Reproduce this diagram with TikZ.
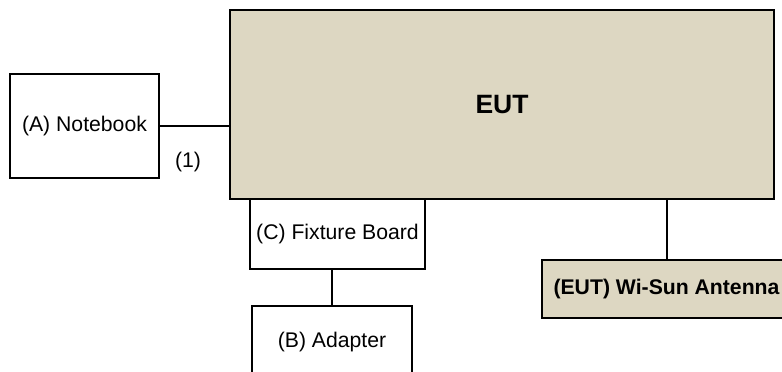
\documentclass[tikz,border=0pt]{standalone}
\usepackage{fontspec}
\setmainfont{Liberation Sans}
\definecolor{boxbeige}{RGB}{221,215,194}
\begin{document}
\begin{tikzpicture}[x=1pt,y=-1pt,
  unit/.style={draw=black,line width=2.6pt,rectangle,inner sep=0pt,
    font=\fontsize{21.2}{25}\selectfont,text=black},
  eutbox/.style={unit,fill=boxbeige},
  wire/.style={draw=black,line width=2pt}]
\useasboundingbox (0,0) rectangle (782,372);
\clip (0,0) rectangle (782,372);
% main equipment under test
\node[eutbox,minimum width=544pt,minimum height=189pt,
  font=\fontsize{26.5}{30}\selectfont\bfseries] (eut) at (502,104.5) {EUT};
% support units
\node[unit,minimum width=149pt,minimum height=104pt] (nb) at (84.5,126) {(A) Notebook};
\node[unit,minimum width=175pt,minimum height=70pt] (fix) at (337.5,234) {(C) Fixture Board};
\node[unit,minimum width=160pt,minimum height=72pt] (adp) at (332,342) {(B) Adapter};
\node[eutbox,minimum width=249pt,minimum height=58pt,
  font=\fontsize{21.2}{25}\selectfont\bfseries] (ant) at (666.5,289) {(EUT) Wi-Sun Antenna};
% cabling
\draw[wire] (nb.east) -- (nb.east -| eut.west);
\draw[wire] (adp.north) -- (adp.north |- fix.south);
\draw[wire] (ant.north) -- (ant.north |- eut.south);
\node[font=\fontsize{21.2}{25}\selectfont] (c1) at (188,162) {(1)};
\end{tikzpicture}
\end{document}
